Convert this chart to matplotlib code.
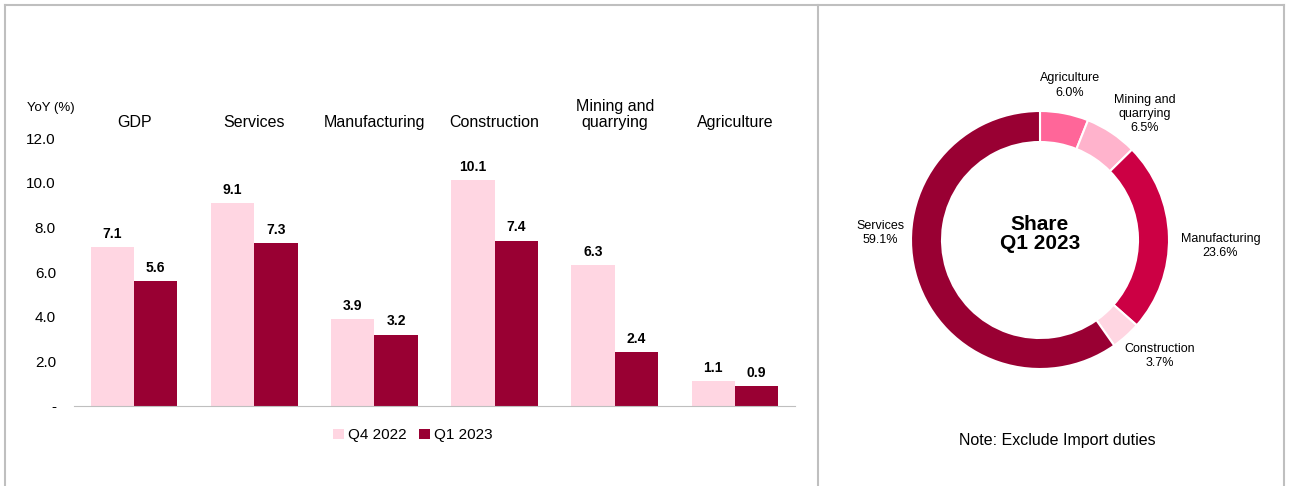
import numpy as np
import matplotlib
matplotlib.use('Agg')
import matplotlib.pyplot as plt
from matplotlib.lines import Line2D

plt.rcParams['font.family'] = ['Liberation Sans', 'DejaVu Sans']

# bar chart data
sectors = ['GDP', 'Services', 'Manufacturing', 'Construction', 'Mining and\nquarrying', 'Agriculture']
q4_2022 = [7.1, 9.1, 3.9, 10.1, 6.3, 1.1]
q1_2023 = [5.6, 7.3, 3.2, 7.4, 2.4, 0.9]
yticks = [0, 2, 4, 6, 8, 10, 12]
ytick_labels = ['-', '2.0', '4.0', '6.0', '8.0', '10.0', '12.0']

# donut data (clockwise from 12 o'clock)
share_labels = ['Agriculture', 'Mining and\nquarrying', 'Manufacturing', 'Construction', 'Services']
share_values = [6.0, 6.5, 23.6, 3.7, 59.1]

PINK_LIGHT = '#FFD6E2'
MAROON = '#990033'
share_colors = ['#FF6699', '#FFB3CC', '#CC0044', PINK_LIGHT, MAROON]

W, H = 1289, 486
fig = plt.figure(figsize=(W / 100, H / 100), dpi=100)

# panel borders
border = '#BFBFBF'
for xs, ys in [([5, 5], [0, H - 5]), ([5, 1284], [H - 5, H - 5]),
               ([1284, 1284], [0, H - 5]), ([818, 818], [0, H - 5])]:
    fig.add_artist(Line2D([x / W for x in xs], [y / H for y in ys], color=border, lw=1.5))

# ---- bar chart ----
ax = fig.add_axes([74 / W, 1 - 406 / H, (795 - 74) / W, (406 - 138) / H])
x = np.arange(len(sectors))
bw = 0.36
b1 = ax.bar(x - bw / 2, q4_2022, bw, color=PINK_LIGHT, label='Q4 2022')
b2 = ax.bar(x + bw / 2, q1_2023, bw, color=MAROON, label='Q1 2023')
for bars, vals in [(b1, q4_2022), (b2, q1_2023)]:
    for r, v in zip(bars, vals):
        ax.annotate(f'{v:.1f}', (r.get_x() + r.get_width() / 2, v), xytext=(0, 4.5),
                    textcoords='offset points', ha='center', va='bottom',
                    fontsize=10, fontweight='bold')
ax.set_xlim(-0.5, len(sectors) - 0.5)
ax.set_ylim(0, 12)
ax.set_yticks(yticks)
ax.set_yticklabels(ytick_labels, fontsize=11)
ax.tick_params(axis='y', length=0, pad=13)
ax.set_xticks([])
for s in ['top', 'right', 'left']:
    ax.spines[s].set_visible(False)
ax.spines['bottom'].set_color('#BFBFBF')
for xi, name in zip(x, sectors):
    ax.text(xi, 1.03, name, transform=ax.get_xaxis_transform(), ha='center', va='bottom',
            fontsize=11.5, linespacing=1.1)
fig.text(27 / W, 1 - 108 / H, 'YoY (%)', fontsize=9.5, va='center', ha='left')
ax.legend(loc='center', bbox_to_anchor=(0.47, -0.11), ncol=2, frameon=False, fontsize=11,
          handlelength=0.7, handleheight=0.7, handletextpad=0.3, columnspacing=0.8)

# ---- donut ----
cx, cy, R = 1040, 240, 129
ax2 = fig.add_axes([(cx - 150) / W, 1 - (cy + 150) / H, 300 / W, 300 / H])
wedges, _ = ax2.pie(share_values, colors=share_colors, startangle=90, counterclock=False,
                    radius=R / 150, wedgeprops=dict(width=31 / 150, edgecolor='white', linewidth=1.5))
ax2.set_xlim(-1, 1)
ax2.set_ylim(-1, 1)
ax2.set_aspect('equal')
ax2.axis('off')
label_dist = [1.22, 1.27, 1.40, 1.29, 1.24]
angle_shift = [0, -6, -3.5, 4, -20]
for w, name, v, d, sh in zip(wedges, share_labels, share_values, label_dist, angle_shift):
    ang = np.deg2rad((w.theta1 + w.theta2) / 2 + sh)
    ax2.text(d * R / 150 * np.cos(ang), d * R / 150 * np.sin(ang), f'{name}\n{v:.1f}%',
             ha='center', va='center', fontsize=9, linespacing=1.25, clip_on=False)
ax2.text(0, 0.04, 'Share\nQ1 2023', ha='center', va='center', fontsize=15, fontweight='bold', linespacing=1.0)
fig.text(1057 / W, 1 - 440 / H, 'Note: Exclude Import duties', ha='center', va='center', fontsize=11.5)

fig.savefig('out.png', dpi=100)
